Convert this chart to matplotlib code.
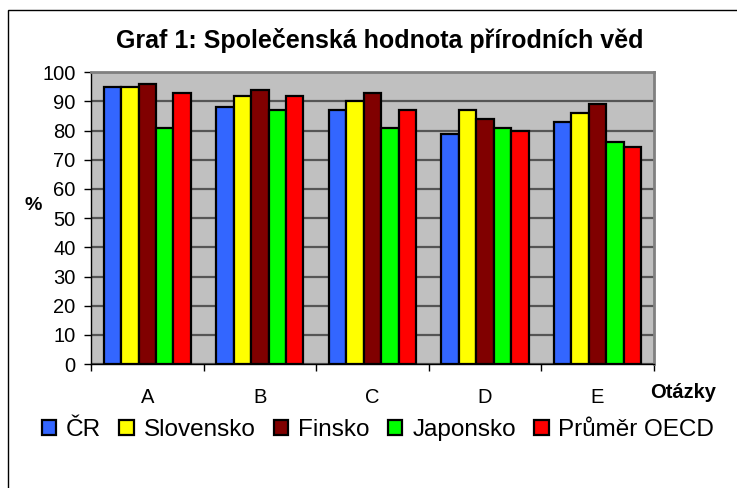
import numpy as np
import matplotlib
matplotlib.use('Agg')
import matplotlib.pyplot as plt
from matplotlib.patches import Rectangle

plt.rcParams['font.family'] = ['Liberation Sans', 'DejaVu Sans']

# Data
questions = ['A', 'B', 'C', 'D', 'E']
series_names = ['ČR', 'Slovensko', 'Finsko', 'Japonsko', 'Průměr OECD']
cr = [95, 88, 87, 79, 83]
slovensko = [95, 92, 90, 87, 86]
finsko = [96, 94, 93, 84, 89]
japonsko = [81, 87, 81, 81, 76]
oecd = [93, 92, 87, 80, 74.5]
colors = ['#3366FF', '#FFFF00', '#800000', '#00FF00', '#FF0000']

fig = plt.figure(figsize=(7.37, 4.88), dpi=100)
ax = fig.add_axes([0.1235, 0.254, 0.7635, 0.598])

x = np.arange(len(questions))
width = 0.155
all_series = [cr, slovensko, finsko, japonsko, oecd]
for i, (vals, name) in enumerate(zip(all_series, series_names)):
    ax.bar(x + (i - 2) * width, vals, width, color=colors[i], edgecolor='black',
           linewidth=1.6, label=name, zorder=3)

ax.set_facecolor('#C0C0C0')
ax.set_xlim(-0.5, 4.5)
ax.set_ylim(0, 100)
ax.set_yticks(range(0, 101, 10))
ax.yaxis.grid(True, color='#555555', linewidth=1.6, zorder=1)
ax.tick_params(axis='y', direction='out', length=5, width=1, labelsize=14.5, pad=6)

ax.set_xticks(x)
ax.set_xticklabels(questions)
ax.set_xticks(np.arange(-0.5, 5, 1), minor=True)
ax.tick_params(axis='x', which='major', length=0, labelsize=14.5, pad=17)
ax.tick_params(axis='x', which='minor', direction='out', length=5, width=1)

for side in ['top', 'right']:
    ax.spines[side].set_color('#808080')
    ax.spines[side].set_linewidth(2)
for side in ['left', 'bottom']:
    ax.spines[side].set_color('black')
    ax.spines[side].set_linewidth(1)

fig.text(380 / 737, 1 - 48 / 488, 'Graf 1: Společenská hodnota přírodních věd',
         ha='center', va='baseline', fontsize=18, fontweight='bold')
fig.text(33 / 737, 1 - 205 / 488, '%', ha='center', va='center',
         fontsize=14, fontweight='bold')
fig.text(683 / 737, 1 - 392 / 488, 'Otázky', ha='center', va='center',
         fontsize=14.5, fontweight='bold')

fig.legend(loc='center', bbox_to_anchor=(378 / 737, 1 - 430 / 488), ncol=5,
           frameon=False, fontsize=17.5, handlelength=0.6, handleheight=0.6,
           handletextpad=0.4, columnspacing=0.75)

fig.add_artist(Rectangle((8 / 737, -0.1), 1.2, 1.1 - 10 / 488,
                         transform=fig.transFigure, fill=False,
                         edgecolor='black', linewidth=1))

fig.savefig('out.png', dpi=100)
